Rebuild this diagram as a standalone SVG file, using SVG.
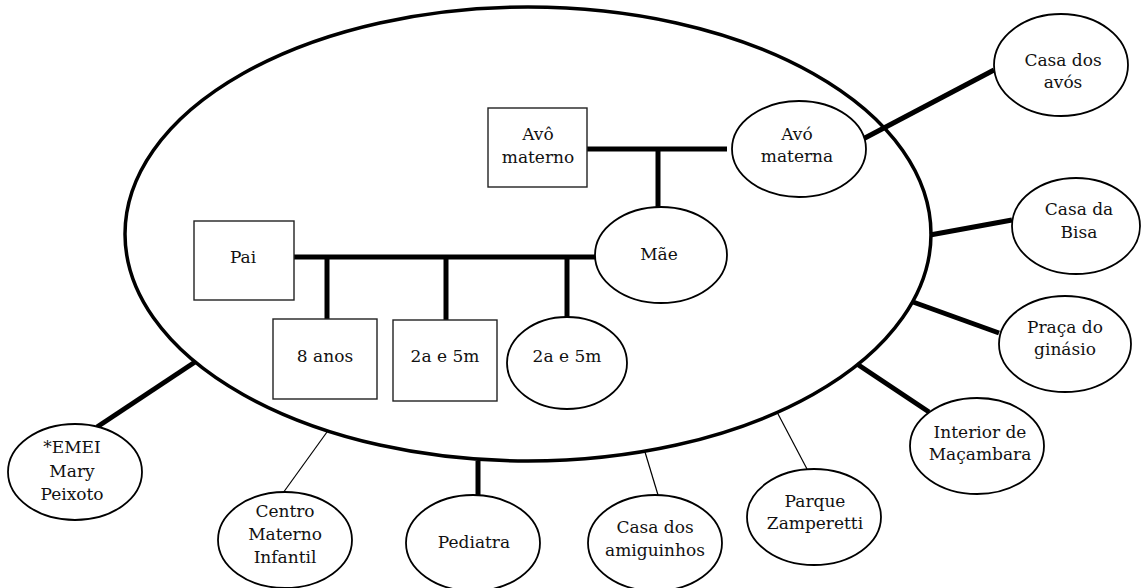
<svg xmlns="http://www.w3.org/2000/svg" width="1141" height="588" viewBox="0 0 1141 588">
<style>
.bg{fill:#fff}
.big{fill:none;stroke:#000;stroke-width:3.5}
.node{fill:#fff;stroke:#000;stroke-width:1.8}
.rect{fill:#fff;stroke:#222;stroke-width:1.4}
.thick{stroke:#000;stroke-width:5;fill:none}
.thin{stroke:#000;stroke-width:1.2;fill:none}
text{font-family:"DejaVu Serif","Liberation Serif",serif;font-size:17px;fill:#111;text-anchor:middle}
</style>
<rect class="bg" x="0" y="0" width="1141" height="588"/>
<ellipse id="ecomap" class="big" cx="528" cy="234" rx="403" ry="227"/>
<g id="connectors">
<line class="thick" x1="587" y1="149" x2="727" y2="149"/>
<line class="thick" x1="658" y1="149" x2="658" y2="207"/>
<line class="thick" x1="294" y1="257" x2="596" y2="257"/>
<line class="thick" x1="327" y1="257" x2="327" y2="319"/>
<line class="thick" x1="446" y1="257" x2="446" y2="320"/>
<line class="thick" x1="567" y1="257" x2="567" y2="317"/>
<line class="thick" x1="863" y1="139" x2="994" y2="70"/>
<line class="thick" x1="930" y1="235" x2="1012" y2="220"/>
<line class="thick" x1="913" y1="302" x2="999" y2="333"/>
<line class="thick" x1="857" y1="364" x2="929" y2="412"/>
<line class="thin" x1="777" y1="412" x2="807" y2="469"/>
<line class="thin" x1="645" y1="452" x2="658" y2="495"/>
<line class="thick" x1="478" y1="461" x2="478" y2="495"/>
<line class="thin" x1="327" y1="432" x2="283" y2="493"/>
<line class="thick" x1="195" y1="362" x2="97" y2="427"/>
</g>
<g id="avo-materno"><rect class="rect" x="488" y="108" width="99" height="79"/><text x="538" y="140">Avô</text><text x="538" y="163">materno</text></g>
<g id="avo-materna"><ellipse class="node" cx="799" cy="149" rx="67" ry="48"/><text x="797" y="140">Avó</text><text x="797" y="162">materna</text></g>
<g id="pai"><rect class="rect" x="194" y="221" width="100" height="79"/><text x="243" y="263">Pai</text></g>
<g id="mae"><ellipse class="node" cx="661" cy="255" rx="66" ry="48"/><text x="659" y="260">Mãe</text></g>
<g id="filho-8"><rect class="rect" x="273" y="319" width="104" height="80"/><text x="325" y="362">8 anos</text></g>
<g id="filho-2a"><rect class="rect" x="393" y="320" width="104" height="81"/><text x="445" y="362">2a e 5m</text></g>
<g id="filha-2a"><ellipse class="node" cx="567" cy="363" rx="60" ry="46"/><text x="567" y="362">2a e 5m</text></g>
<g id="casa-avos"><ellipse class="node" cx="1061" cy="65" rx="67" ry="51"/><text x="1063" y="66">Casa dos</text><text x="1063" y="88">avós</text></g>
<g id="casa-bisa"><ellipse class="node" cx="1076" cy="226" rx="64" ry="48"/><text x="1079" y="215">Casa da</text><text x="1079" y="238">Bisa</text></g>
<g id="praca"><ellipse class="node" cx="1065" cy="344" rx="66" ry="48"/><text x="1065" y="333">Praça do</text><text x="1065" y="355">ginásio</text></g>
<g id="interior"><ellipse class="node" cx="977" cy="446" rx="67" ry="48"/><text x="980" y="438">Interior de</text><text x="980" y="460">Maçambara</text></g>
<g id="parque"><ellipse class="node" cx="814" cy="517" rx="67" ry="48"/><text x="815" y="507">Parque</text><text x="815" y="529">Zamperetti</text></g>
<g id="amiguinhos"><ellipse class="node" cx="655" cy="543" rx="67" ry="48"/><text x="655" y="533">Casa dos</text><text x="655" y="556">amiguinhos</text></g>
<g id="pediatra"><ellipse class="node" cx="473" cy="543" rx="67" ry="48"/><text x="474" y="548">Pediatra</text></g>
<g id="centro"><ellipse class="node" cx="285" cy="540" rx="67" ry="48"/><text x="285" y="517">Centro</text><text x="285" y="540">Materno</text><text x="285" y="563">Infantil</text></g>
<g id="emei"><ellipse class="node" cx="75" cy="472" rx="67" ry="48"/><text x="72" y="453">*EMEI</text><text x="72" y="477">Mary</text><text x="72" y="500">Peixoto</text></g>
</svg>
